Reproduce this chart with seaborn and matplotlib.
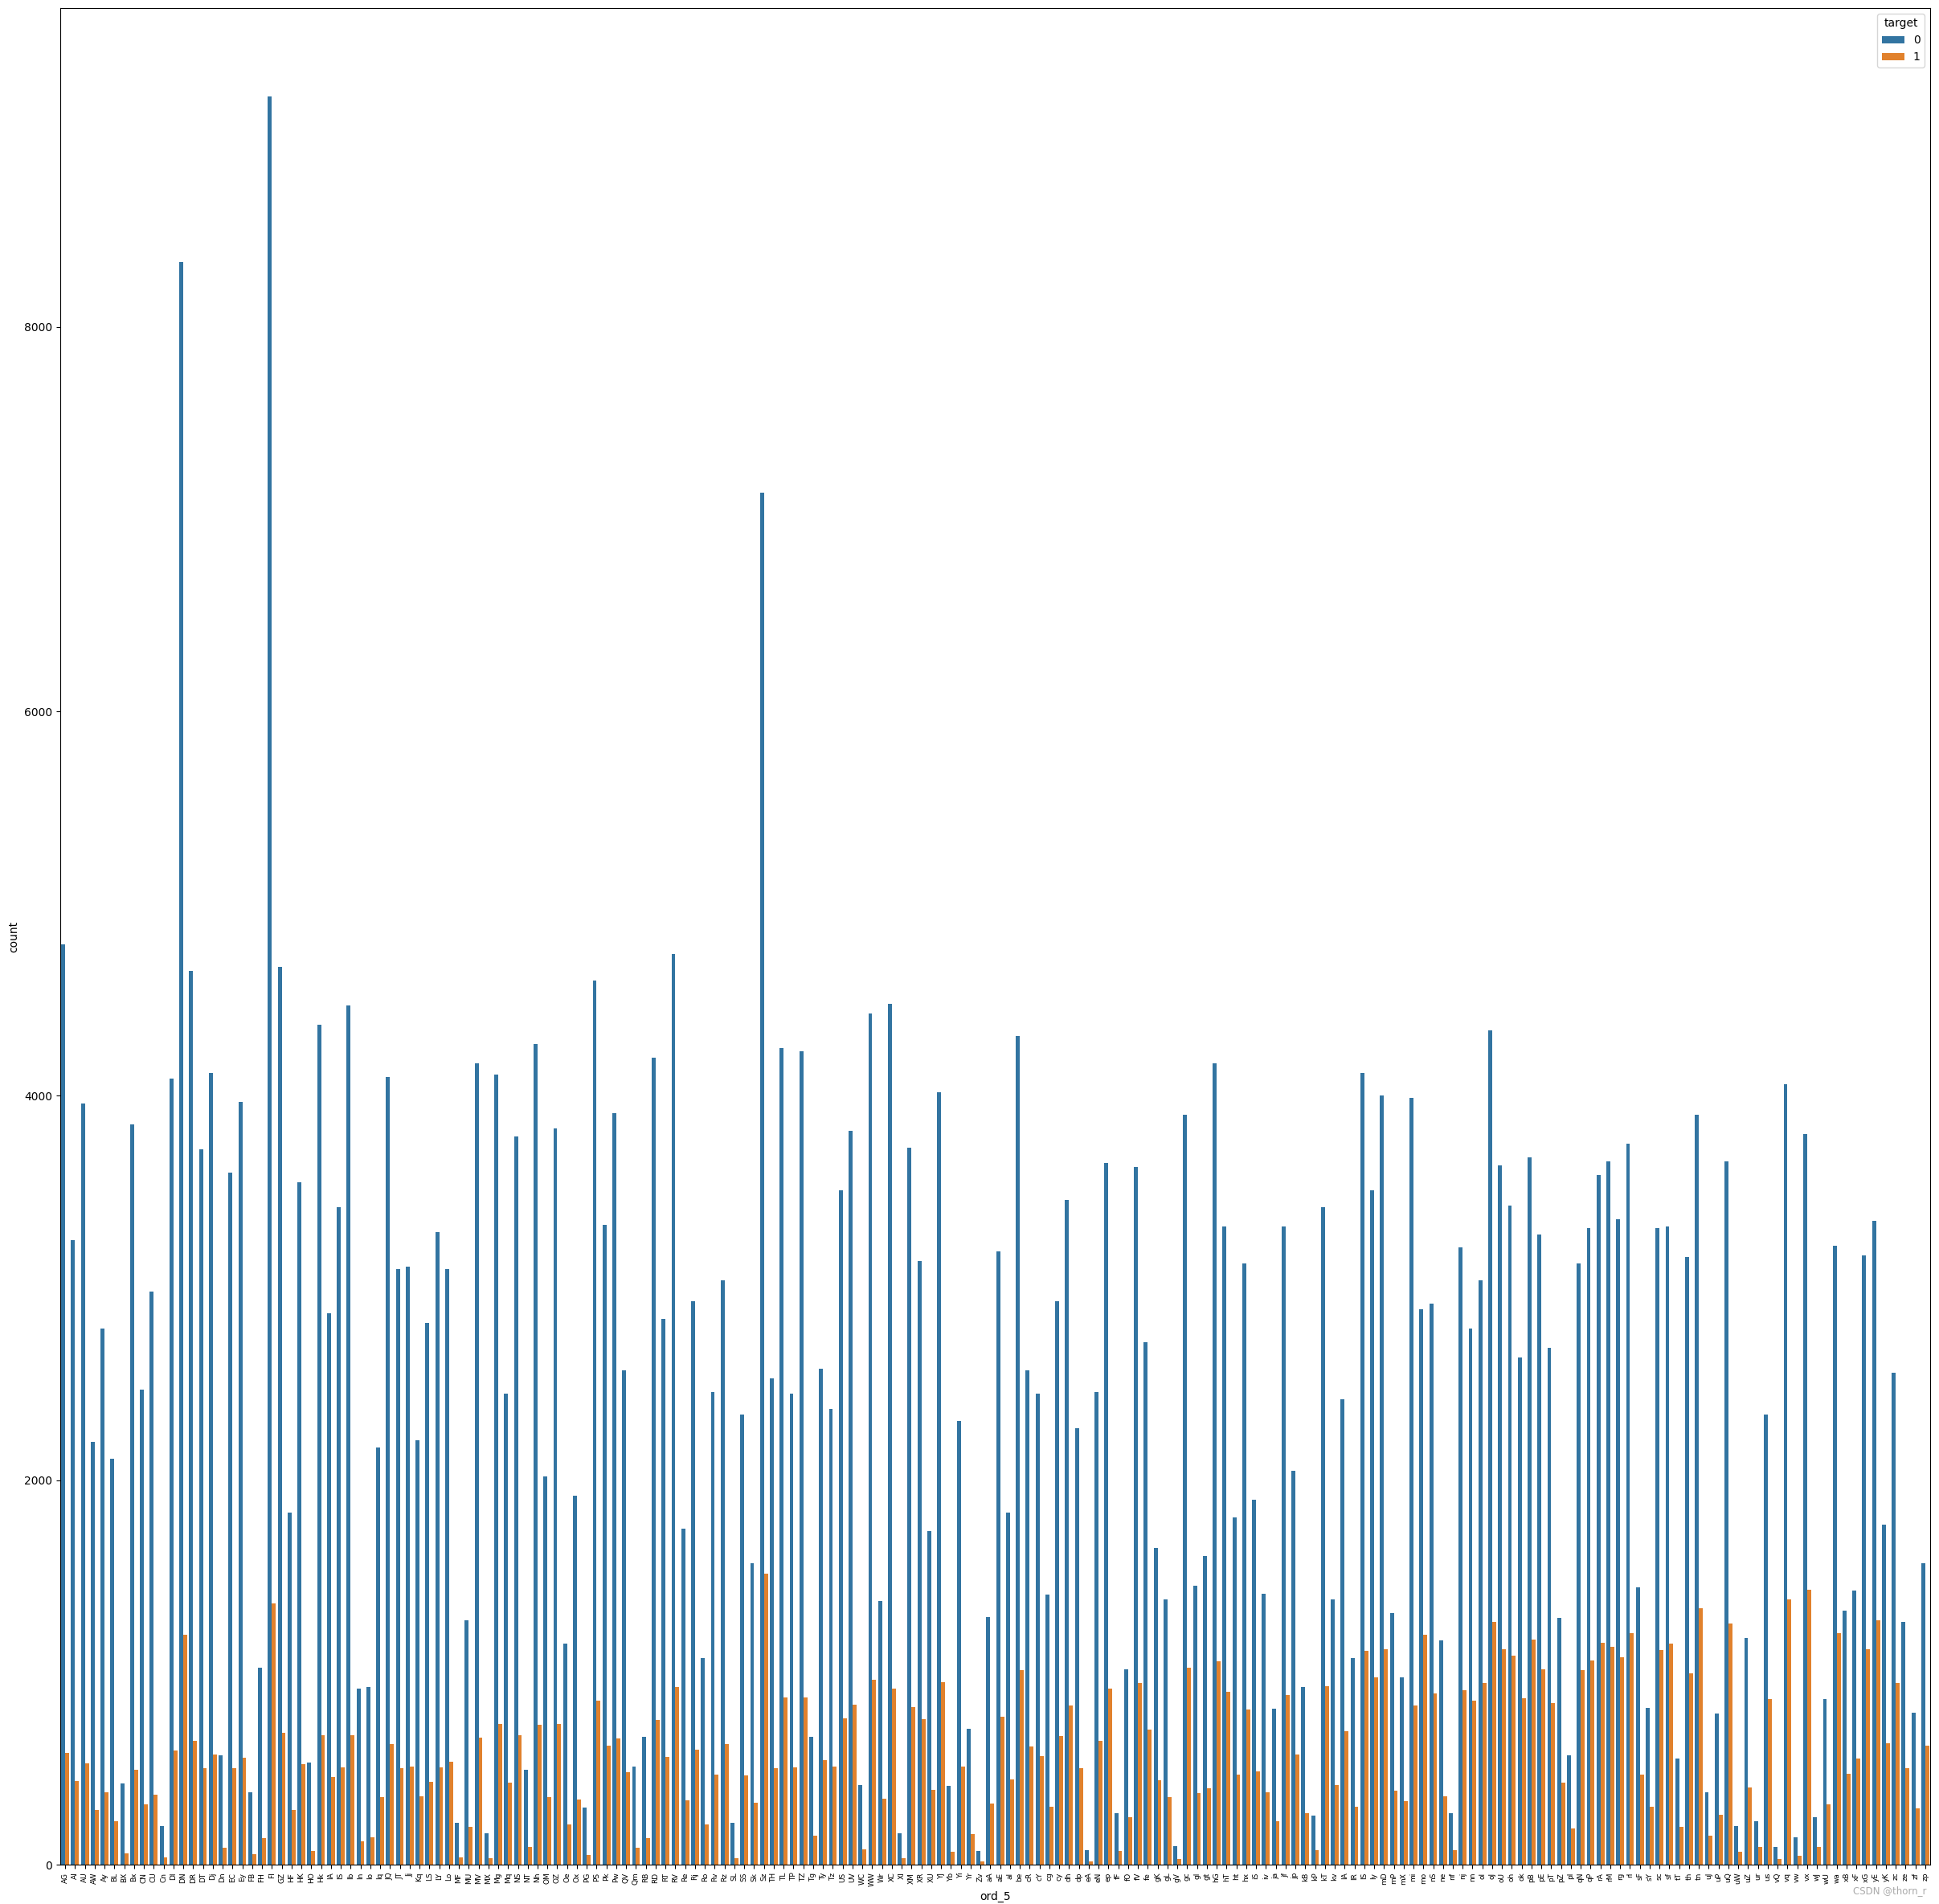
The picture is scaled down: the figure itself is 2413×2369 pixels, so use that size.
import pandas as pd
import matplotlib
matplotlib.use("Agg")
import matplotlib.pyplot as plt
import seaborn as sns

# --- data: counts of ord_5 per target ---
ord5_labels = [
    "AG", "AI", "AU", "AW", "Ay", "BL", "BX", "Bx", "CN", "CU", "Cn", "DI", "DN", "DR", "DT", "Dj",
    "Dn", "EC", "Ey", "FB", "FH", "FI", "GZ", "HF", "HK", "HO", "Hk", "IA", "IS", "Ib", "In", "Io",
    "Iq", "JQ", "JT", "Jj", "Kq", "LS", "LY", "Lo", "MF", "MU", "MV", "MX", "Mg", "Mq", "NS", "NT",
    "Nh", "OM", "OZ", "Oe", "Ox", "PG", "PS", "Pk", "Pw", "QV", "Qm", "RB", "RD", "RT", "RV", "Re",
    "Rj", "Ro", "Rv", "Rz", "SL", "SS", "Sk", "Sz", "TH", "TL", "TP", "TZ", "Tg", "Ty", "Tz", "US",
    "UV", "WC", "WW", "Wr", "XC", "XI", "XM", "XR", "XU", "YJ", "Yb", "Yi", "Yr", "Zv", "aA", "aE",
    "aI", "be", "cR", "cY", "cg", "cy", "dh", "dp", "eA", "eN", "ep", "fF", "fO", "fV", "fe", "gK",
    "gL", "gV", "gc", "gl", "gt", "hG", "hT", "ht", "hx", "iS", "iv", "ja", "jf", "jp", "kB", "kP",
    "kT", "kv", "lA", "lR", "lS", "ly", "mD", "mP", "mX", "mi", "mo", "nS", "ne", "nf", "nj", "nn",
    "oI", "oJ", "oU", "oh", "ok", "pB", "pE", "pT", "pZ", "pl", "qN", "qP", "rA", "rM", "rg", "rl",
    "sF", "sY", "sc", "sf", "tT", "th", "tn", "uJ", "uP", "uQ", "uW", "uZ", "ur", "us", "vQ", "vq",
    "vw", "vx", "wJ", "wU", "wa", "xB", "xF", "xG", "yE", "yK", "zc", "ze", "zf", "zp",
]

count_target0 = [
    4790, 3250, 3960, 2200, 2790, 2110, 423, 3850, 2470, 2980, 201, 4090, 8340, 4650, 3720, 4120,
    570, 3600, 3970, 377, 1026, 9200, 4670, 1830, 3550, 532, 4370, 2870, 3420, 4470, 917, 926,
    2170, 4100, 3100, 3110, 2210, 2820, 3290, 3100, 218, 1273, 4170, 163, 4110, 2450, 3790, 494,
    4270, 2020, 3830, 1152, 1920, 297, 4600, 3330, 3910, 2570, 511, 666, 4200, 2840, 4740, 1746,
    2930, 1076, 2460, 3040, 218, 2340, 1570, 7140, 2530, 4250, 2450, 4230, 666, 2580, 2370, 3510,
    3820, 415, 4430, 1370, 4480, 163, 3730, 3140, 1734, 4020, 410, 2310, 708, 71, 1290, 3190,
    1830, 4310, 2570, 2450, 1407, 2930, 3460, 2270, 75, 2460, 3650, 268, 1018, 3630, 2720, 1646,
    1378, 96, 3900, 1453, 1604, 4170, 3320, 1805, 3130, 1900, 1411, 812, 3320, 2050, 926, 255,
    3420, 1378, 2420, 1076, 4120, 3510, 4000, 1307, 976, 3990, 2890, 2920, 1168, 268, 3210, 2790,
    3040, 4340, 3640, 3430, 2640, 3680, 3280, 2690, 1282, 570, 3130, 3310, 3590, 3660, 3360, 3750,
    1441, 817, 3310, 3320, 553, 3160, 3900, 377, 787, 3660, 201, 1181, 226, 2340, 92, 4060,
    142, 3800, 247, 863, 3220, 1323, 1424, 3170, 3350, 1767, 2560, 1265, 792, 1570,
]

count_target1 = [
    582, 436, 528, 285, 377, 226, 59, 494, 314, 364, 38, 595, 1198, 645, 503, 574,
    88, 503, 557, 54, 138, 1361, 687, 285, 524, 71, 674, 456, 507, 674, 121, 142,
    352, 628, 503, 511, 356, 431, 507, 536, 38, 197, 662, 34, 733, 427, 674, 92,
    729, 352, 733, 209, 339, 50, 854, 620, 658, 482, 88, 138, 754, 561, 926, 335,
    599, 209, 469, 628, 34, 465, 322, 1512, 503, 871, 507, 871, 151, 544, 511, 762,
    833, 80, 963, 343, 917, 34, 821, 758, 389, 951, 67, 511, 159, 17, 318, 771,
    444, 1013, 616, 565, 301, 670, 829, 503, 17, 645, 917, 71, 246, 946, 704, 440,
    352, 29, 1026, 373, 398, 1060, 900, 469, 808, 486, 377, 226, 884, 574, 268, 75,
    930, 415, 695, 301, 1114, 976, 1122, 385, 331, 829, 1194, 892, 356, 75, 909, 854,
    946, 1265, 1122, 1089, 867, 1173, 1018, 842, 427, 188, 1013, 1064, 1156, 1135, 1081, 1206,
    469, 301, 1118, 1148, 197, 997, 1336, 151, 260, 1256, 67, 402, 92, 863, 29, 1382,
    46, 1432, 92, 314, 1206, 473, 553, 1122, 1273, 632, 946, 503, 293, 620,
]

target_levels = ["0", "1"]

df = pd.DataFrame({
    "ord_5": ord5_labels * 2,
    "target": [target_levels[0]] * len(ord5_labels) + [target_levels[1]] * len(ord5_labels),
    "count": count_target0 + count_target1,
})

# --- plot ---
fig = plt.figure(figsize=(24.13, 23.69), dpi=100)
ax = fig.add_axes([75 / 2413, 1 - 2320 / 2369, (2402 - 75) / 2413, (2320 - 10) / 2369])

sns.barplot(data=df, x="ord_5", y="count", hue="target",
            order=ord5_labels, hue_order=target_levels, errorbar=None, ax=ax)

ax.tick_params(axis="x", labelrotation=90, labelsize=6.5)
ax.set_xlabel("ord_5")
ax.set_ylabel("count")
ax.legend(title="target", loc="upper right")

fig.text(2397 / 2413, 1 - 2353 / 2369, "CSDN @thorn_r", ha="right", va="center",
         fontsize=8.5, color="#aaaaaa")

fig.savefig("out.png", dpi=100)
